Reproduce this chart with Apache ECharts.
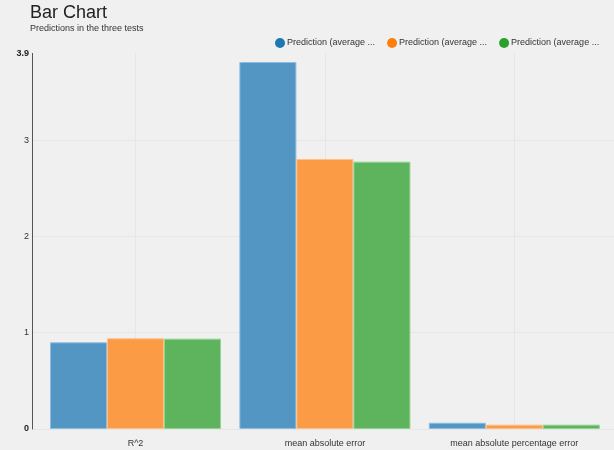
<!DOCTYPE html>
<html>
<head>
<meta charset="utf-8">
<script src="https://cdn.jsdelivr.net/npm/echarts@6/dist/echarts.min.js"></script>
<style>html,body{margin:0;padding:0;background:#f0f0f0;}#c{width:614px;height:450px;}</style>
</head>
<body>
<div id="c"></div>
<script>
var categories = ['R^2', 'mean absolute error', 'mean absolute percentage error'];
var seriesNames = ['Prediction (average) test 1', 'Prediction (average) test 2', 'Prediction (average) test 3'];
var test1 = [0.900, 3.811, 0.065];
var test2 = [0.942, 2.804, 0.045];
var test3 = [0.938, 2.776, 0.045];
var yTicks = [0, 1, 2, 3, 3.9];
var colors = ['#5395c3', '#fb9b46', '#5db45d'];
var borders = ['#8fbde0', '#ffbf86', '#92d492'];
var legendColors = ['#1f77b4', '#ff7f0e', '#2ca02c'];

var FONT = 'Liberation Sans, Arial, sans-serif';
var chart = echarts.init(document.getElementById('c'));
var values = [test1, test2, test3];
var yMin = yTicks[0], yMax = yTicks[yTicks.length - 1];

var series = seriesNames.map(function (n, i) {
  return {
    name: n, type: 'bar', xAxisIndex: 0, yAxisIndex: 0,
    data: values[i], barGap: '0%', barCategoryGap: '9.7%',
    itemStyle: { color: colors[i], borderColor: borders[i], borderWidth: 1 },
    emphasis: { disabled: true }
  };
});

chart.setOption({
  backgroundColor: '#f0f0f0',
  animation: false,
  color: colors,
  title: {
    text: 'Bar Chart', subtext: 'Predictions in the three tests',
    left: 25, top: -1, itemGap: 2,
    textStyle: { fontFamily: FONT, fontSize: 18, fontWeight: 'normal', color: '#222' },
    subtextStyle: { fontFamily: FONT, fontSize: 9, color: '#333' }
  },
  legend: {
    left: 270, top: 33, icon: 'circle', itemWidth: 10, itemHeight: 10, itemGap: 12,
    formatter: function (name) { return name.slice(0, 19) + ' ...'; },
    textStyle: { fontFamily: FONT, fontSize: 9, color: '#333', padding: [0, 0, 0, -3] },
    data: seriesNames.map(function (n, i) {
      return { name: n, itemStyle: { color: legendColors[i], borderWidth: 0 } };
    })
  },
  grid: [
    { left: 40.8, right: 5, top: 53.4, bottom: 21 },
    { left: 32, right: 0, top: 53.4, bottom: 21 }
  ],
  xAxis: [
    {
      type: 'category', gridIndex: 0, data: categories,
      axisLine: { show: false }, axisTick: { show: false }, splitLine: { show: false },
      axisLabel: { fontFamily: FONT, fontSize: 9, color: '#333', margin: 10 }
    },
    {
      type: 'category', gridIndex: 0, boundaryGap: false, data: ['', '', '', '', '', '', ''],
      position: 'bottom',
      axisLine: { show: false }, axisTick: { show: false }, axisLabel: { show: false },
      splitLine: { show: true, interval: function (i) { return i % 2 === 1; }, lineStyle: { color: '#e6e6e6', width: 1 } }
    },
    { type: 'value', gridIndex: 1, min: 0, max: 1, show: false }
  ],
  yAxis: [
    { type: 'value', gridIndex: 0, min: yMin, max: yMax, show: false, splitLine: { show: false } },
    {
      type: 'value', gridIndex: 1, min: yMin, max: yMax, interval: 1,
      axisLine: { show: true, lineStyle: { color: '#555', width: 1 } },
      axisTick: { show: false },
      splitLine: { show: true, showMaxLine: false, lineStyle: { color: '#e6e6e6', width: 1 } },
      axisLabel: {
        margin: 3, fontFamily: FONT, fontSize: 9, color: '#333',
        showMaxLabel: true, showMinLabel: true,
        formatter: function (v) {
          if (v === yMin || Math.abs(v - yMax) < 1e-9) return '{b|' + v + '}';
          return String(v);
        },
        rich: { b: { fontFamily: FONT, fontSize: 9, fontWeight: 'bold', color: '#222' } }
      }
    }
  ],
  series: series
});
</script>
</body>
</html>
